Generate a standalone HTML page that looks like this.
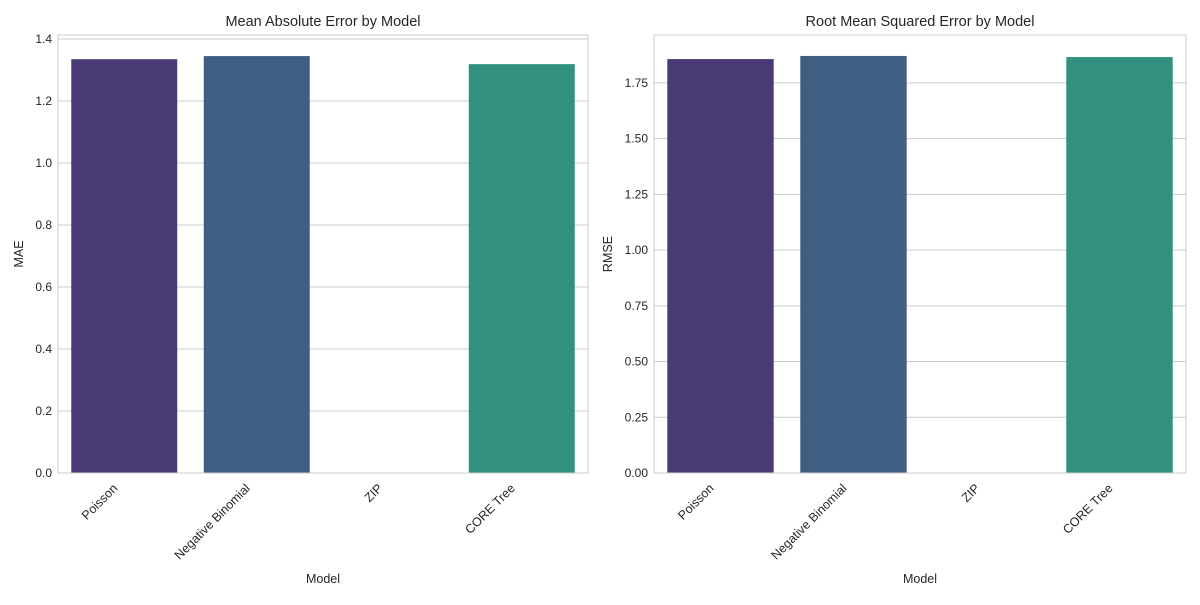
<!DOCTYPE html>
<html><head><meta charset="utf-8"><style>
body{margin:0;background:#fff;font-family:"Liberation Sans",sans-serif}
</style></head><body>
<svg id="c" width="1200" height="600" xmlns="http://www.w3.org/2000/svg" font-family="Liberation Sans, sans-serif"></svg>
<script>
const categories=["Poisson","Negative Binomial","ZIP","CORE Tree"];
const maeValues=[1.335,1.345,0,1.319];
const rmseValues=[1.857,1.871,0,1.866];
const maeTicks=[0,0.2,0.4,0.6,0.8,1.0,1.2,1.4];
const maeTickLabels=["0.0","0.2","0.4","0.6","0.8","1.0","1.2","1.4"];
const rmseTicks=[0,0.25,0.5,0.75,1.0,1.25,1.5,1.75];
const rmseTickLabels=["0.00","0.25","0.50","0.75","1.00","1.25","1.50","1.75"];
const colors=["#4a3a75","#3f5e82","#2e7f8c","#31917e"];
const svg=document.getElementById('c');
const NS="http://www.w3.org/2000/svg";
function mk(t,a,p){const e=document.createElementNS(NS,t);for(const k in a)e.setAttribute(k,a[k]);(p||svg).appendChild(e);return e;}
function panel(id,x0,x1,y0,y1,ymax,vals,ticks,tlabels,title,ylab){
  const g=mk('g',{});
  
  
  const ys=v=>y1-(v/ymax)*(y1-y0);
  const bw=(x1-x0)/categories.length;
  const xs=i=>x0+bw*(i+0.5);
  ticks.forEach((t,i)=>{
    const y=ys(t);
    const l=mk('line',{x1:x0,x2:x1,y1:y,y2:y,stroke:'#cccccc','stroke-width':1},g);
    
    
    const tx=mk('text',{x:x0-6,y:y+4,'text-anchor':'end','font-size':12,fill:'#262626'},g);
    tx.textContent=tlabels[i];
    
    
  });
  vals.forEach((v,i)=>{
    const b=mk('rect',{x:xs(i)-bw*0.4,y:ys(v),width:bw*0.8,height:y1-ys(v),fill:colors[i]},g);
    
    
    const tx=mk('text',{x:0,y:0,'text-anchor':'end','font-size':12.5,fill:'#262626',transform:`translate(${xs(i)-6},${y1+16}) rotate(-45)`},g);
    tx.textContent=categories[i];
    
    
  });
  const fr=mk('rect',{x:x0,y:y0,width:x1-x0,height:y1-y0,fill:'none',stroke:'#cccccc','stroke-width':1},g);
  
  
  const t=mk('text',{x:(x0+x1)/2,y:y0-9,'text-anchor':'middle','font-size':14.5,fill:'#262626'},g);
  t.textContent=title;
  
  
  const xl=mk('text',{x:(x0+x1)/2,y:583,'text-anchor':'middle','font-size':12.5,fill:'#262626'},g);
  xl.textContent='Model';
  
  
  const yl=mk('text',{x:0,y:0,'text-anchor':'middle','font-size':12.5,fill:'#262626',transform:`translate(${x0-(ymax<1.5?35:42)},${(y0+y1)/2}) rotate(-90)`},g);
  yl.textContent=ylab;
  
  
}
panel('mae',58,588,35,473,1.413,maeValues,maeTicks,maeTickLabels,'Mean Absolute Error by Model','MAE');
panel('rmse',654,1186,35,473,1.965,rmseValues,rmseTicks,rmseTickLabels,'Root Mean Squared Error by Model','RMSE');
</script>
</body></html>
